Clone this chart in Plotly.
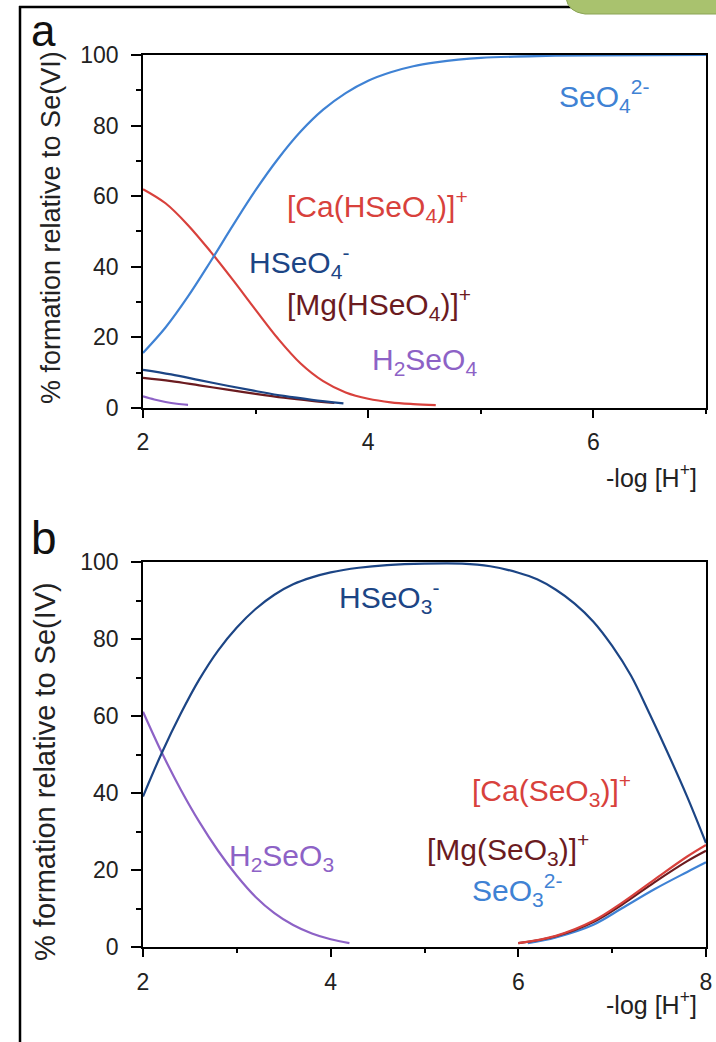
import plotly.graph_objects as go

# ---------------- Panel a: Se(VI) ----------------
a_seo4_x = [2.0, 2.2, 2.4, 2.6, 2.8, 3.0, 3.2, 3.4, 3.6, 3.8, 4.0, 4.2, 4.4, 4.6, 4.8, 5.0, 5.5, 6.0, 7.0]
a_seo4_y = [15.6, 22.8, 31.6, 41.5, 51.8, 61.7, 70.6, 78.3, 84.5, 89.2, 92.7, 95.1, 96.8, 97.9, 98.7, 99.2, 99.7, 99.9, 100]

a_ca_x = [2.0, 2.2, 2.4, 2.6, 2.8, 3.0, 3.2, 3.4, 3.6, 3.8, 4.0, 4.2, 4.4, 4.6]
a_ca_y = [62, 58.0, 51.8, 44.3, 36.2, 27.8, 19.6, 12.6, 7.6, 4.4, 2.6, 1.6, 1.1, 0.8]

a_hseo4_x = [2.0, 2.25, 2.5, 2.75, 3.0, 3.25, 3.5, 3.78]
a_hseo4_y = [10.8, 9.5, 7.9, 6.3, 4.8, 3.4, 2.3, 1.3]

a_mg_x = [2.0, 2.25, 2.5, 2.75, 3.0, 3.25, 3.5, 3.7]
a_mg_y = [8.5, 7.6, 6.4, 5.2, 4.0, 2.9, 2.0, 1.4]

a_h2seo4_x = [2.0, 2.1, 2.2, 2.3, 2.4]
a_h2seo4_y = [3.3, 2.4, 1.7, 1.2, 0.9]

# ---------------- Panel b: Se(IV) ----------------
b_h2seo3_x = [2.0, 2.2, 2.4, 2.6, 2.8, 3.0, 3.2, 3.4, 3.6, 3.8, 4.0, 4.2]
b_h2seo3_y = [61.1, 50.5, 41.0, 32.5, 25.0, 18.5, 13.0, 8.8, 5.7, 3.5, 2.0, 1.0]

b_hseo3_x = [2.0, 2.2, 2.4, 2.6, 2.8, 3.0, 3.2, 3.4, 3.6, 3.8, 4.0, 4.3, 4.6, 5.0, 5.4, 5.7, 6.0, 6.2, 6.4, 6.6,
             6.8, 7.0, 7.2, 7.4, 7.6, 7.8, 8.0]
b_hseo3_y = [39.1, 50.4, 60.5, 69.5, 77.0, 83.0, 87.8, 91.5, 94.2, 96.0, 97.3, 98.5, 99.2, 99.6, 99.6, 98.9, 97.2, 95.5,
             92.8, 89.2, 84.5, 78.2, 70.5, 60.5, 50.0, 39.0, 27.0]

b_ca_x = [6.0, 6.4, 6.8, 7.1, 7.45, 7.8, 8.0]
b_ca_y = [1.0, 2.9, 6.8, 11.4, 17.5, 23.5, 26.5]

b_mg_x = [6.0, 6.4, 6.8, 7.1, 7.45, 7.8, 8.0]
b_mg_y = [1.0, 2.8, 6.5, 10.9, 16.8, 22.3, 25.0]

b_seo3_x = [6.1, 6.4, 6.8, 7.1, 7.45, 7.8, 8.0]
b_seo3_y = [1.0, 2.5, 5.8, 10.0, 15.0, 19.5, 22.0]

tick_vals = [0, 20, 40, 60, 80, 100]
xticks_a = [2, 4, 6]
xticks_b = [2, 4, 6, 8]

LIGHT_BLUE = "#3f82d4"
DARK_BLUE = "#1c4585"
RED = "#d8413c"
DARK_RED = "#6b1b1f"
PURPLE = "#8d62c6"
FONT = "Liberation Sans, Arial, sans-serif"

fig = go.Figure()

def add(x, y, color, xa, ya):
    fig.add_trace(go.Scatter(x=x, y=y, mode="lines", line=dict(color=color, width=2.2, shape="spline", smoothing=1.0),
                             xaxis=xa, yaxis=ya, showlegend=False, hoverinfo="skip"))

add(a_h2seo4_x, a_h2seo4_y, PURPLE, "x", "y")
add(a_mg_x, a_mg_y, DARK_RED, "x", "y")
add(a_hseo4_x, a_hseo4_y, DARK_BLUE, "x", "y")
add(a_ca_x, a_ca_y, RED, "x", "y")
add(a_seo4_x, a_seo4_y, LIGHT_BLUE, "x", "y")

add(b_h2seo3_x, b_h2seo3_y, PURPLE, "x2", "y2")
add(b_seo3_x, b_seo3_y, LIGHT_BLUE, "x2", "y2")
add(b_mg_x, b_mg_y, DARK_RED, "x2", "y2")
add(b_ca_x, b_ca_y, RED, "x2", "y2")
add(b_hseo3_x, b_hseo3_y, DARK_BLUE, "x2", "y2")

xcommon = dict(showgrid=False, zeroline=False, showline=True, linecolor="black", linewidth=1.8, mirror=True,
               ticks="outside", ticklen=8, tickwidth=1.5, tickcolor="black", ticklabelstandoff=5, automargin=False,
               tickfont=dict(family=FONT, size=23, color="#222"),
               minor=dict(ticks="outside", ticklen=4, tickwidth=1.5, tickcolor="black", dtick=1))
ycommon = dict(showgrid=False, zeroline=False, showline=True, linecolor="black", linewidth=1.8, mirror=True,
               ticks="outside", ticklen=10, tickwidth=1.5, tickcolor="black", ticklabelstandoff=8, automargin=False,
               tickfont=dict(family=FONT, size=23, color="#222"), tickvals=tick_vals, range=[0, 100],
               minor=dict(ticks="outside", ticklen=5, tickwidth=1.5, tickcolor="black", dtick=10))

fig.update_layout(
    width=716, height=1042,
    margin=dict(l=143, r=10, t=55, b=95, autoexpand=False),
    paper_bgcolor="white", plot_bgcolor="white",
    xaxis=dict(xcommon, domain=[0, 1], range=[2, 7], tickvals=xticks_a, anchor="y"),
    yaxis=dict(ycommon, domain=[0.6043, 1], anchor="x"),
    xaxis2=dict(xcommon, domain=[0, 1], range=[2, 8], tickvals=xticks_b, anchor="y2"),
    yaxis2=dict(ycommon, domain=[0, 0.4316], anchor="x2"),
)

ann = []
def lab(text, x, y, color, xref, yref, size=30):
    ann.append(dict(text=text, x=x, y=y, xref=xref, yref=yref, xanchor="left", yanchor="middle",
                    showarrow=False, font=dict(family=FONT, size=size, color=color)))

lab("SeO<sub>4</sub><sup>2-</sup>", 5.675, 88.4, LIGHT_BLUE, "x", "y")
lab("[Ca(HSeO<sub>4</sub>)]<sup>+</sup>", 3.26, 57.2, RED, "x", "y")
lab("HSeO<sub>4</sub><sup>-</sup>", 2.92, 41.4, DARK_BLUE, "x", "y")
lab("[Mg(HSeO<sub>4</sub>)]<sup>+</sup>", 3.26, 29.5, DARK_RED, "x", "y")
lab("H<sub>2</sub>SeO<sub>4</sub>", 4.02, 13.3, PURPLE, "x", "y")

lab("HSeO<sub>3</sub><sup>-</sup>", 4.07, 90.8, DARK_BLUE, "x2", "y2")
lab("H<sub>2</sub>SeO<sub>3</sub>", 2.89, 23.2, PURPLE, "x2", "y2")
lab("[Ca(SeO<sub>3</sub>)]<sup>+</sup>", 5.49, 40.8, RED, "x2", "y2")
lab("[Mg(SeO<sub>3</sub>)]<sup>+</sup>", 5.01, 25.5, DARK_RED, "x2", "y2")
lab("SeO<sub>3</sub><sup>2-</sup>", 5.49, 14.9, LIGHT_BLUE, "x2", "y2")

def px2paper_x(px):
    return (px - 143) / 563

def py2paper_y(py):
    return 1 - (py - 55) / 892

# axis titles
ann.append(dict(text="-log [H<sup>+</sup>]", x=px2paper_x(699), y=py2paper_y(476), xref="paper", yref="paper",
                xanchor="right", yanchor="middle", showarrow=False, font=dict(family=FONT, size=25, color="#222")))
ann.append(dict(text="-log [H<sup>+</sup>]", x=px2paper_x(699), y=py2paper_y(1003), xref="paper", yref="paper",
                xanchor="right", yanchor="middle", showarrow=False, font=dict(family=FONT, size=25, color="#222")))
ann.append(dict(text="% formation relative to Se(VI)", x=px2paper_x(51), y=py2paper_y(228), xref="paper", yref="paper",
                xanchor="center", yanchor="middle", textangle=-90, showarrow=False,
                font=dict(family=FONT, size=27, color="#222")))
ann.append(dict(text="% formation relative to Se(IV)", x=px2paper_x(45), y=py2paper_y(772), xref="paper", yref="paper",
                xanchor="center", yanchor="middle", textangle=-90, showarrow=False,
                font=dict(family=FONT, size=29, color="#222")))
# panel letters
ann.append(dict(text="a", x=px2paper_x(29), y=py2paper_y(30), xref="paper", yref="paper",
                xanchor="left", yanchor="middle", showarrow=False, font=dict(family=FONT, size=44, color="#111")))
ann.append(dict(text="b", x=px2paper_x(29), y=py2paper_y(538), xref="paper", yref="paper",
                xanchor="left", yanchor="middle", showarrow=False, font=dict(family=FONT, size=46, color="#111")))
fig.update_layout(annotations=ann)

# outer frame and corner tab
shapes = [
    dict(type="line", xref="paper", yref="paper", x0=px2paper_x(20), x1=px2paper_x(20),
         y0=py2paper_y(6), y1=py2paper_y(1045), line=dict(color="black", width=2.5)),
    dict(type="line", xref="paper", yref="paper", x0=px2paper_x(19), x1=px2paper_x(720),
         y0=py2paper_y(7), y1=py2paper_y(7), line=dict(color="black", width=2.5)),
    dict(type="path", xref="paper", yref="paper",
         path=f"M {px2paper_x(566)} {py2paper_y(-2)} L {px2paper_x(720)} {py2paper_y(-2)} "
              f"L {px2paper_x(720)} {py2paper_y(14)} L {px2paper_x(585)} {py2paper_y(14)} "
              f"Q {px2paper_x(568)} {py2paper_y(12)} {px2paper_x(566)} {py2paper_y(-2)} Z",
         fillcolor="#a9c26e", line=dict(color="#8aa455", width=1)),
]
fig.update_layout(shapes=shapes)

fig.write_html("out.html", config={"displayModeBar": False},
               post_script="document.body.style.margin='0px';document.body.style.overflow='hidden';")
